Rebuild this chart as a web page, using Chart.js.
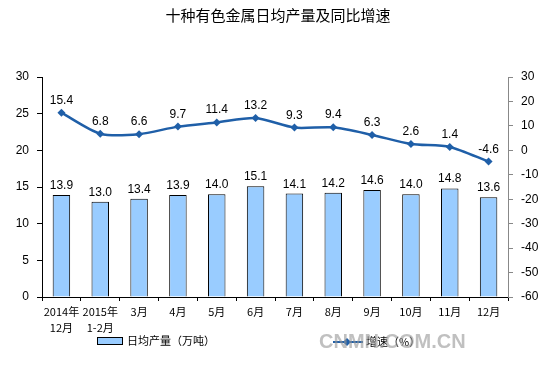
<!DOCTYPE html>
<html><head><meta charset="utf-8">
<script src="https://cdn.jsdelivr.net/npm/chart.js@4"></script>
<style>html,body{margin:0;padding:0;background:#fff}#w{width:544px;height:372px}</style>
</head><body><div id="w"><canvas id="c" width="544" height="372"></canvas></div>
<script>
const categories = [["2014年","12月"],["2015年","1-2月"],"3月","4月","5月","6月","7月","8月","9月","10月","11月","12月"];
const output = [13.9,13.0,13.4,13.9,14.0,15.1,14.1,14.2,14.6,14.0,14.8,13.6];
const growth = [15.4,6.8,6.6,9.7,11.4,13.2,9.3,9.4,6.3,2.6,1.4,-4.6];
const titleText = "十种有色金属日均产量及同比增速";
const barName = "日均产量（万吨）";
const lineName = "增速（%）";
const FONT = "'Liberation Sans', 'Noto Sans CJK SC', sans-serif";
const CJK = "'Noto Sans CJK SC', sans-serif";

const deco = {
  id:'deco',
  afterDatasetsDraw(chart){
    const ctx = chart.ctx;
    ctx.save();
    ctx.fillStyle = '#000';
    ctx.font = "15px " + CJK;
    ctx.textAlign='center'; ctx.textBaseline='middle';
    ctx.fillText(titleText, 278, 15);
    ctx.font = "12px " + FONT;
    ctx.textBaseline='alphabetic';
    chart.getDatasetMeta(0).data.forEach((b,i)=>{
      ctx.fillText(output[i].toFixed(1), b.x, b.y-6);
    });
    chart.getDatasetMeta(1).data.forEach((p,i)=>{
      ctx.fillText(growth[i].toFixed(1), p.x, p.y-9);
    });
    ctx.fillStyle='#99CCFF'; ctx.strokeStyle='#000'; ctx.lineWidth=1;
    ctx.fillRect(97.5,337.5,25,7); ctx.strokeRect(97.5,337.5,25,7);
    ctx.fillStyle='#000'; ctx.font="11px "+CJK; ctx.textAlign='left'; ctx.textBaseline='middle';
    ctx.fillText(barName,127,341);
    ctx.strokeStyle='#1F5FA8'; ctx.lineWidth=2;
    ctx.beginPath(); ctx.moveTo(333,342); ctx.lineTo(363,342); ctx.stroke();
    ctx.fillStyle='#1F5FA8';
    ctx.beginPath(); ctx.moveTo(347,338); ctx.lineTo(351,342); ctx.lineTo(347,346); ctx.lineTo(343,342); ctx.closePath(); ctx.fill();
    ctx.fillStyle='#000';
    ctx.fillText(lineName,366,342);
    ctx.fillStyle='rgba(150,150,150,0.6)';
    ctx.font="bold 20px 'Liberation Sans', sans-serif";
    ctx.fillText("CNMN.COM.CN",319,342);
    ctx.restore();
  }
};

new Chart(document.getElementById('c'),{
  data:{
    labels:categories,
    datasets:[
      {type:'bar',label:barName,data:output,yAxisID:'y',backgroundColor:'#99CCFF',borderColor:'#000',borderWidth:1,barPercentage:0.45,categoryPercentage:1,order:2},
      {type:'line',label:lineName,data:growth,yAxisID:'y1',borderColor:'#1F5FA8',backgroundColor:'#1F5FA8',borderWidth:2.5,pointStyle:'rectRot',pointRadius:4,pointBorderWidth:0,tension:0.25,order:1}
    ]
  },
  options:{
    responsive:false,animation:false,
    layout:{padding:{top:77,left:0,right:0,bottom:0}},
    plugins:{legend:{display:false},tooltip:{enabled:false}},
    scales:{
      x:{offset:true,
        grid:{offset:true,drawOnChartArea:false,tickLength:4,color:'#000'},
        border:{color:'#000'},
        ticks:{color:'#000',font:{size:11,family:CJK,lineHeight:1.45},maxRotation:0,autoSkip:false,padding:3},
        afterFit(s){s.height=75;}
      },
      y:{position:'left',min:0,max:30,
        ticks:{stepSize:5,color:'#000',font:{size:12,family:FONT},padding:8},
        grid:{drawOnChartArea:false,tickLength:5,color:'#000'},
        border:{color:'#000'},
        afterFit(s){s.width=42;}
      },
      y1:{position:'right',min:-60,max:30,
        ticks:{stepSize:10,color:'#000',font:{size:12,family:FONT},padding:8},
        grid:{drawOnChartArea:false,tickLength:5,color:'#888'},
        border:{color:'#888'},
        afterFit(s){s.width=36;}
      }
    }
  },
  plugins:[deco]
});
</script>
</body></html>
